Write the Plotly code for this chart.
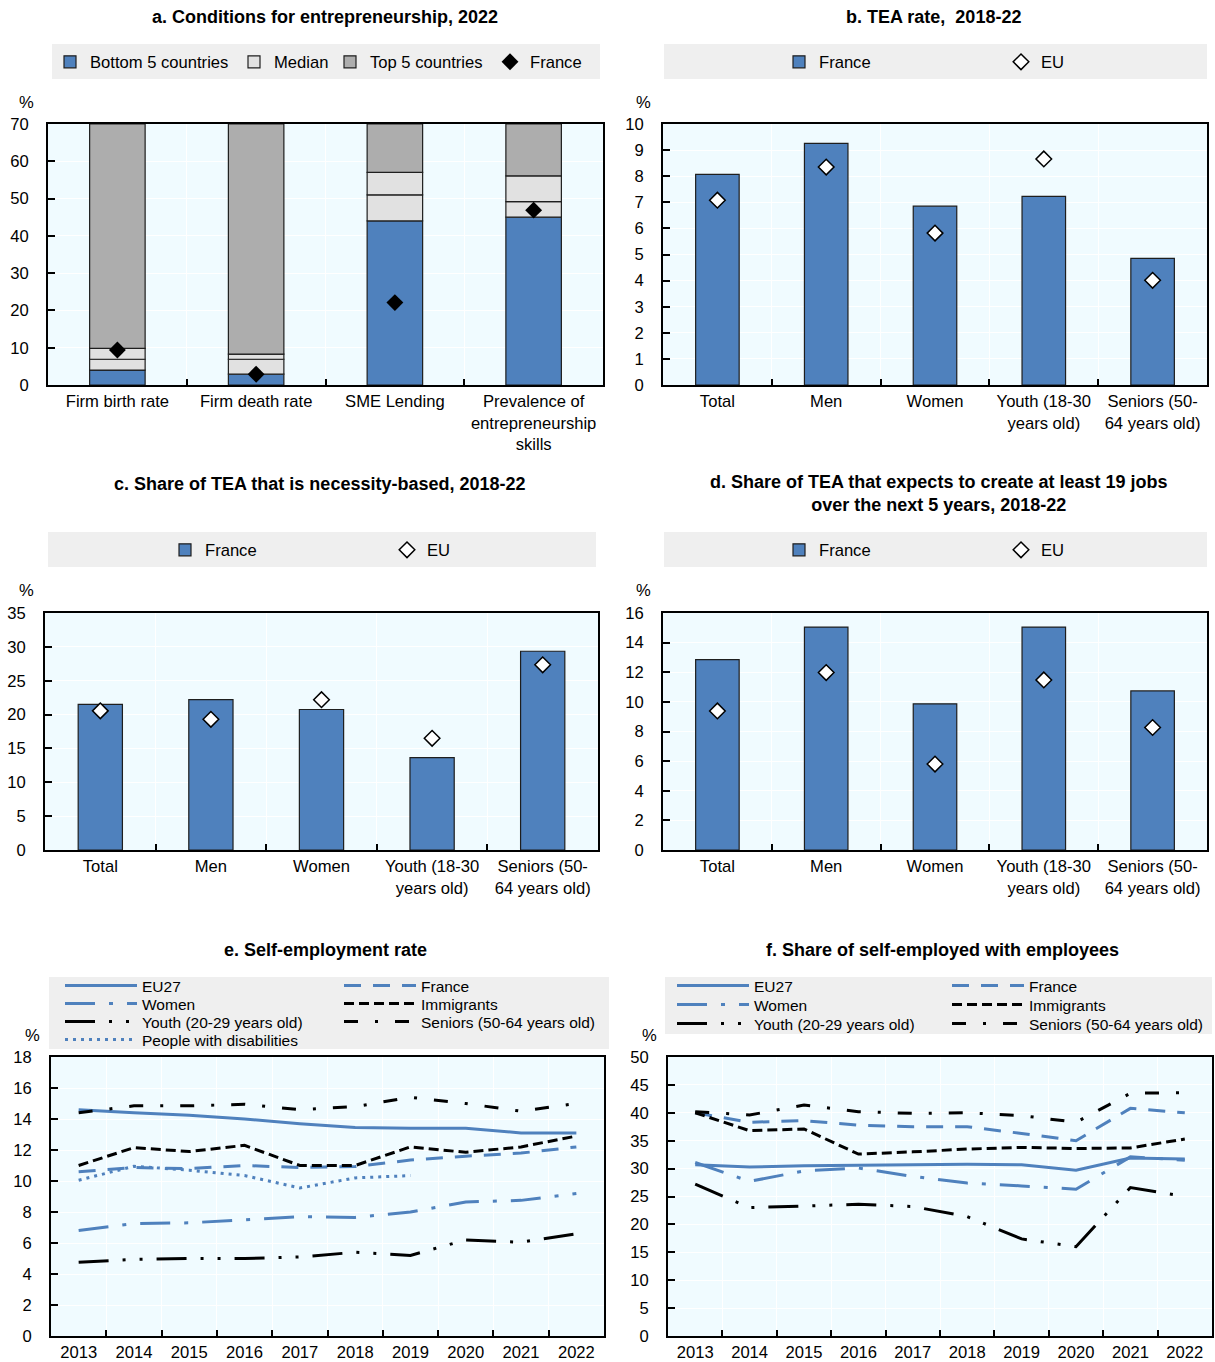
import plotly.graph_objects as go

W, H = 1215, 1362

# ---------------- data ----------------
a_categories = ["Firm birth rate", "Firm death rate", "SME Lending",
                "Prevalence of<br>entrepreneurship<br>skills"]
a_bottom5 = [4.0, 2.9, 44.0, 45.0]
a_median = [6.9, 6.9, 51.0, 49.2]
a_band_top = [9.8, 8.3, 57.0, 56.1]
a_top5 = [70.0, 70.0, 70.0, 70.0]
a_france = [9.4, 2.9, 22.1, 46.9]

groups = ["Total", "Men", "Women", "Youth (18-30<br>years old)", "Seniors (50-<br>64 years old)"]
b_france = [8.07, 9.26, 6.85, 7.23, 4.85]
b_eu = [7.08, 8.35, 5.82, 8.66, 4.01]
c_france = [21.5, 22.2, 20.75, 13.65, 29.35]
c_eu = [20.55, 19.3, 22.2, 16.5, 27.35]
d_france = [12.85, 15.05, 9.87, 15.05, 10.74]
d_eu = [9.39, 11.98, 5.8, 11.48, 8.27]

years = ["2013", "2014", "2015", "2016", "2017", "2018", "2019", "2020", "2021", "2022"]
e_eu27 = [14.6, 14.4, 14.25, 14.0, 13.7, 13.45, 13.4, 13.4, 13.1, 13.1]
e_france = [10.6, 10.87, 10.8, 11.0, 10.87, 10.93, 11.35, 11.6, 11.8, 12.2]
e_women = [6.8, 7.25, 7.3, 7.5, 7.7, 7.65, 8.0, 8.65, 8.75, 9.2]
e_immigrants = [11.0, 12.15, 11.9, 12.3, 11.0, 11.0, 12.2, 11.85, 12.2, 12.9]
e_youth = [4.75, 4.95, 5.0, 5.0, 5.1, 5.4, 5.2, 6.2, 6.05, 6.6]
e_seniors = [14.4, 14.85, 14.85, 14.95, 14.6, 14.8, 15.4, 15.0, 14.5, 15.0]
e_disabilities = [10.05, 10.95, 10.7, 10.35, 9.55, 10.2, 10.35, None, None, None]

f_eu27 = [30.7, 30.3, 30.5, 30.6, 30.8, 30.8, 30.7, 29.7, 31.9, 31.7]
f_france = [40.0, 38.3, 38.6, 37.8, 37.5, 37.5, 36.3, 35.0, 40.8, 40.0]
f_women = [31.1, 27.7, 29.6, 30.1, 28.6, 27.4, 26.9, 26.3, 32.1, 31.5]
f_immigrants = [40.0, 36.8, 37.1, 32.6, 33.0, 33.5, 33.8, 33.6, 33.7, 35.3]
f_youth = [27.2, 23.0, 23.3, 23.6, 23.2, 21.4, 17.4, 16.0, 26.6, 25.0]
f_seniors = [40.2, 39.6, 41.4, 40.2, 39.9, 40.0, 39.5, 38.3, 43.5, 43.6]

# ---------------- styles ----------------
BLUE = "#4F81BD"
LIGHT = "#E1E1E1"
GREY = "#ADADAD"
EDGE = "#1E1E1E"
PLOT_BG = "#F0FBFF"
LEG_BG = "#EFEFEF"
FONT = "Arial, Liberation Sans, sans-serif"
TICK_SIZE = 16.6
TITLE_SIZE = 18

fig = go.Figure()
legends = {}
n_leg = [0]


def legend_at(x_text, y_mid, itemwidth=30, size=TICK_SIZE):
    """Create one single-entry legend whose label starts at pixel x_text."""
    n_leg[0] += 1
    key = "legend" if n_leg[0] == 1 else f"legend{n_leg[0]}"
    legends[key] = dict(
        x=(x_text - itemwidth - 13) / W, y=1 - y_mid / H,
        xanchor="left", yanchor="middle", orientation="v",
        bgcolor="rgba(0,0,0,0)", borderwidth=0, itemwidth=itemwidth,
        font=dict(family=FONT, size=size, color="black"),
        itemclick=False, itemdoubleclick=False,
    )
    return key


def px_dom_x(l, r):
    return [l / W, r / W]


def px_dom_y(top, bottom):
    return [1 - bottom / H, 1 - top / H]


axes_cfg = {}


def make_axes(idx, xl, xr, yt, yb, ymax, dtick, ncat):
    xs = "xaxis" if idx == 1 else f"xaxis{idx}"
    ys = "yaxis" if idx == 1 else f"yaxis{idx}"
    ax_x = "x" if idx == 1 else f"x{idx}"
    ax_y = "y" if idx == 1 else f"y{idx}"
    axes_cfg[xs] = dict(
        domain=px_dom_x(xl, xr), anchor=ax_y, type="category",
        range=[-0.5, ncat - 0.5],
        tickson="boundaries", ticks="inside", ticklen=6, tickwidth=1.5,
        tickcolor="black", showline=True, linecolor="black", linewidth=2,
        mirror=True, showgrid=True, gridcolor="white", gridwidth=1,
        tickfont=dict(family=FONT, size=TICK_SIZE, color="black"),
        ticklabelstandoff=0, fixedrange=True,
    )
    axes_cfg[ys] = dict(
        domain=px_dom_y(yt, yb), anchor=ax_x, range=[0, ymax], dtick=dtick,
        ticks="inside", ticklen=7, tickwidth=1.5, tickcolor="black",
        showline=True, linecolor="black", linewidth=2, mirror=True,
        showgrid=True, gridcolor="white", gridwidth=1, zeroline=False,
        tickfont=dict(family=FONT, size=TICK_SIZE, color="black"),
        ticklabelstandoff=14, fixedrange=True,
    )
    return ax_x, ax_y


# ---------------- panel a ----------------
xa, ya = make_axes(1, 48, 603, 124, 385, 70, 10, len(a_categories))
bar_line = dict(color=EDGE, width=1.2)
fig.add_trace(go.Bar(x=a_categories, y=a_bottom5, base=[0] * 4, width=0.4,
                     marker=dict(color=BLUE, line=bar_line), name="Bottom 5 countries",
                     xaxis=xa, yaxis=ya, legend=legend_at(93, 62)))
fig.add_trace(go.Bar(x=a_categories, y=[m - b for m, b in zip(a_median, a_bottom5)],
                     base=a_bottom5, width=0.4, marker=dict(color=LIGHT, line=bar_line),
                     name="Median", xaxis=xa, yaxis=ya, legend=legend_at(277, 62)))
fig.add_trace(go.Bar(x=a_categories, y=[t - m for t, m in zip(a_band_top, a_median)],
                     base=a_median, width=0.4, marker=dict(color=LIGHT, line=bar_line),
                     showlegend=False, xaxis=xa, yaxis=ya))
fig.add_trace(go.Bar(x=a_categories, y=[t - u for t, u in zip(a_top5, a_band_top)],
                     base=a_band_top, width=0.4, marker=dict(color=GREY, line=bar_line),
                     name="Top 5 countries", xaxis=xa, yaxis=ya, legend=legend_at(373, 62)))
fig.add_trace(go.Scatter(x=a_categories, y=a_france, mode="markers", name="France",
                         marker=dict(symbol="diamond", size=13, color="black"),
                         xaxis=xa, yaxis=ya, legend=legend_at(533, 62)))

# ---------------- panels b, c, d ----------------
bar_panels = [
    (2, (663, 1207, 124, 385), 10, 1, b_france, b_eu, (822, 1044, 62)),
    (3, (45, 598, 613, 850), 35, 5, c_france, c_eu, (208, 430, 550)),
    (4, (663, 1207, 613, 850), 16, 2, d_france, d_eu, (822, 1044, 550)),
]
for idx, (l, r, t, b), ymax, dt, fr, eu, (lx1, lx2, ly) in bar_panels:
    xx, yy = make_axes(idx, l, r, t, b, ymax, dt, len(groups))
    fig.add_trace(go.Bar(x=groups, y=fr, width=0.4, name="France",
                         marker=dict(color=BLUE, line=bar_line),
                         xaxis=xx, yaxis=yy, legend=legend_at(lx1, ly)))
    fig.add_trace(go.Scatter(x=groups, y=eu, mode="markers", name="EU",
                             marker=dict(symbol="diamond", size=12, color="white",
                                         line=dict(color="black", width=1.5)),
                             xaxis=xx, yaxis=yy, legend=legend_at(lx2, ly)))

# ---------------- panels e, f ----------------
DASH = {
    "EU27": "solid",
    "France": "17px,12px",
    "Women": "30px,14px,4px,14px",
    "Immigrants": "10px,5px",
    "Youth": "30px,14px,3px,14px,3px,14px",
    "Seniors": "14px,17px,3px,17px",
    "Disabilities": "3px,5px",
}
LINE_LEG = 15.5

xe, ye = make_axes(5, 51, 604, 1057, 1336, 18, 2, len(years))
xf, yf = make_axes(6, 668, 1212, 1057, 1336, 50, 5, len(years))

e_series = [
    ("EU27", e_eu27, BLUE, "EU27", (145, 986)),
    ("France", e_france, BLUE, "France", (424, 986)),
    ("Women", e_women, BLUE, "Women", (145, 1004)),
    ("Immigrants", e_immigrants, "black", "Immigrants", (424, 1004)),
    ("Youth (20-29 years old)", e_youth, "black", "Youth", (145, 1022)),
    ("Seniors (50-64 years old)", e_seniors, "black", "Seniors", (424, 1022)),
    ("People with disabilities", e_disabilities, BLUE, "Disabilities", (145, 1040)),
]
for name, vals, col, key, (lx, ly) in e_series:
    fig.add_trace(go.Scatter(x=years, y=vals, mode="lines", name=name,
                             line=dict(color=col, width=3, dash=DASH[key]),
                             connectgaps=False, xaxis=xe, yaxis=ye,
                             legend=legend_at(lx, ly, itemwidth=72, size=LINE_LEG)))

f_series = [
    ("EU27", f_eu27, BLUE, "EU27", (757, 986)),
    ("France", f_france, BLUE, "France", (1032, 986)),
    ("Women", f_women, BLUE, "Women", (757, 1005)),
    ("Immigrants", f_immigrants, "black", "Immigrants", (1032, 1005)),
    ("Youth (20-29 years old)", f_youth, "black", "Youth", (757, 1024)),
    ("Seniors (50-64 years old)", f_seniors, "black", "Seniors", (1032, 1024)),
]
for name, vals, col, key, (lx, ly) in f_series:
    fig.add_trace(go.Scatter(x=years, y=vals, mode="lines", name=name,
                             line=dict(color=col, width=3, dash=DASH[key]),
                             xaxis=xf, yaxis=yf,
                             legend=legend_at(lx, ly, itemwidth=72, size=LINE_LEG)))

# ---------------- legend backgrounds ----------------
shapes = []
for (l, t, r, b) in [(52, 44, 600, 79), (664, 44, 1207, 79), (48, 532, 596, 567),
                     (664, 532, 1207, 567), (49, 977, 609, 1049), (665, 977, 1212, 1034)]:
    shapes.append(dict(type="rect", xref="paper", yref="paper", layer="below",
                       x0=l / W, x1=r / W, y0=1 - b / H, y1=1 - t / H,
                       fillcolor=LEG_BG, line=dict(width=0)))

# ---------------- titles and unit labels ----------------
annotations = []
titles = [
    ("a. Conditions for entrepreneurship, 2022", 325, 17),
    ("b. TEA rate,  2018-22", 933, 17),
    ("c. Share of TEA that is necessity-based, 2018-22", 320, 484),
    ("d. Share of TEA that expects to create at least 19 jobs<br>over the next 5 years, 2018-22", 938, 494),
    ("e. Self-employment rate", 325, 950),
    ("f. Share of self-employed with employees", 942, 950),
]
for text, cx, cy in titles:
    annotations.append(dict(text=f"<b>{text}</b>", x=cx / W, y=1 - cy / H,
                            xref="paper", yref="paper", showarrow=False,
                            xanchor="center", yanchor="middle",
                            font=dict(family=FONT, size=TITLE_SIZE, color="black")))
for cx, cy in [(26, 102), (643, 102), (26, 590), (643, 590), (32, 1035), (649, 1035)]:
    annotations.append(dict(text="%", x=cx / W, y=1 - cy / H, xref="paper", yref="paper",
                            showarrow=False, xanchor="center", yanchor="middle",
                            font=dict(family=FONT, size=TICK_SIZE, color="black")))

fig.update_layout(
    width=W, height=H, margin=dict(l=0, r=0, t=0, b=0, autoexpand=False),
    paper_bgcolor="white", plot_bgcolor=PLOT_BG,
    barmode="overlay", showlegend=True,
    font=dict(family=FONT, size=TICK_SIZE, color="black"),
    shapes=shapes, annotations=annotations,
    **axes_cfg, **legends,
)

fig.write_html("out.html")
